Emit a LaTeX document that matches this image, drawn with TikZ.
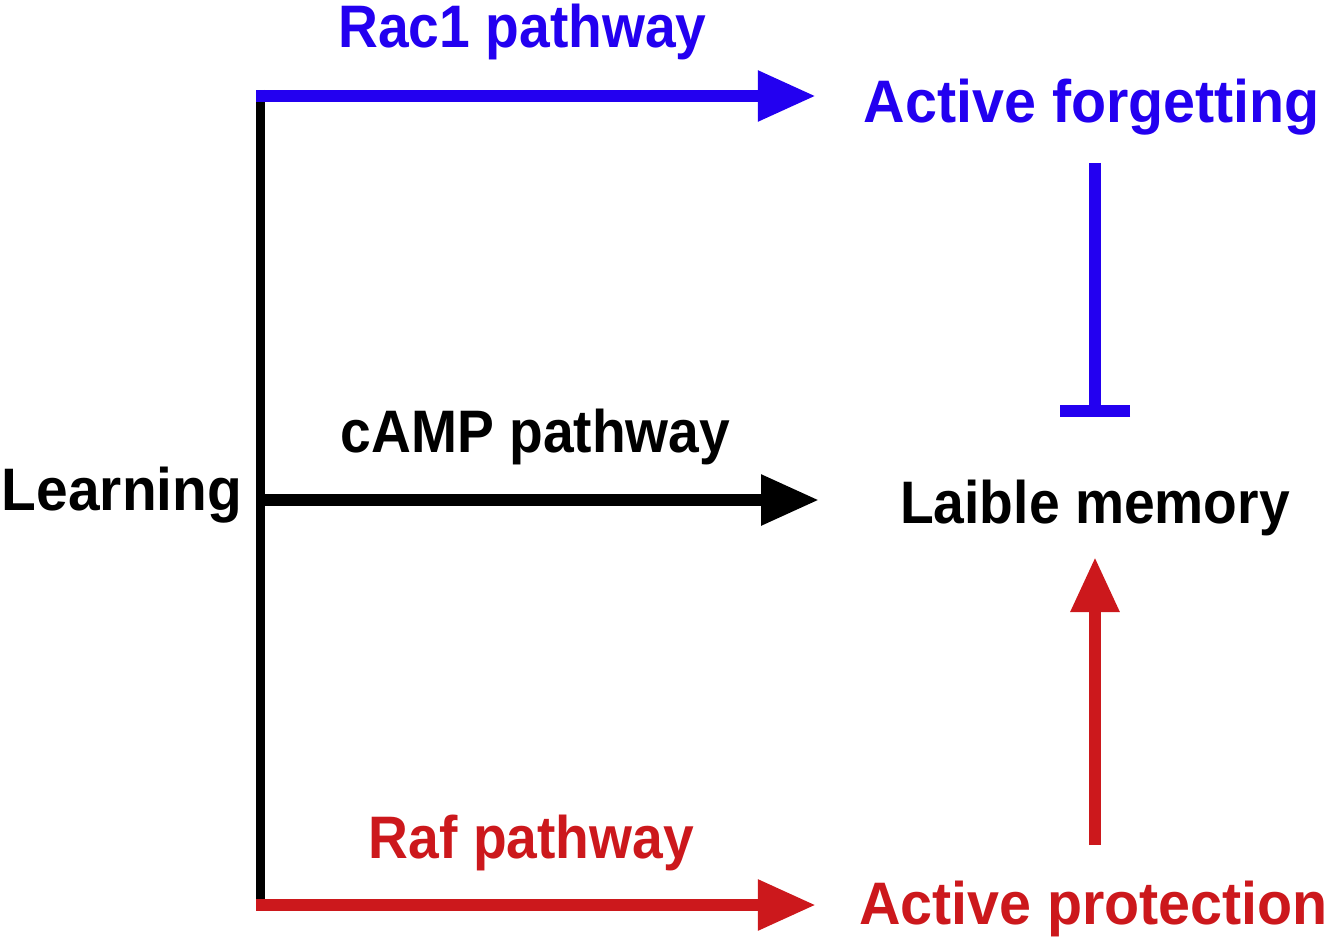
\documentclass[tikz,border=0pt]{standalone}
\usepackage{fontspec}
\usepackage{graphicx}
\setmainfont{Liberation Sans}[FakeStretch=0.92]
\usetikzlibrary{arrows.meta,calc}
\definecolor{cblue}{RGB}{35,0,240}
\definecolor{cred}{RGB}{204,24,28}
\newcommand{\wid}[1]{\scalebox{1.04}[1]{#1}}
\begin{document}
\begin{tikzpicture}[x=1pt,y=-1pt,
  lbl/.style={inner sep=0pt,anchor=base,font=\fontsize{60}{72}\selectfont\bfseries},
  conn/.style={line width=12pt},
  tipA/.style={-{Triangle[length=58pt,width=48pt]}},
  tipB/.style={-{Triangle[length=55pt,width=46pt]}}]
\useasboundingbox (0,0) rectangle (1328,939);
% text nodes
\node[lbl,text=cblue] (rac) at (522.5,48) {Rac1 pathway};
\node[lbl,text=cblue] (af) at (1092,123) {\wid{Active forgetting}};
\node[lbl] (camp) at (535.5,452) {cAMP pathway};
\node[lbl] (learn) at (122,510) {\scalebox{1.03}[1]{Learning}};
\node[lbl] (lm) at (1095,523) {Laible memory};
\node[lbl,text=cred] (raf) at (531.5,858) {Raf pathway};
\node[lbl,text=cred] (ap) at (1093.5,924) {\wid{Active protection}};
% trunk
\coordinate (ttop) at (260,90);
\coordinate (tbot) at (260,911);
\coordinate (b1) at (256,96);
\coordinate (b2) at (256,500);
\coordinate (b3) at (256,905);
\draw[line width=9pt] (ttop) -- (tbot);
% branches
\draw[conn,cblue,tipA,shorten >=48pt] (b1) -- (b1 -| af.west);
\draw[conn,black,tipA,shorten >=81pt] (b2) -- (b2 -| lm.west);
\draw[conn,cred,tipA,shorten >=43pt] (b3) -- (b3 -| ap.west);
% inhibition from active forgetting
\coordinate (fs) at ([yshift=-40pt]af.base);
\coordinate (fe) at ([yshift=106pt]lm.base);
\draw[conn,cblue,-{Bar[width=70pt]}] (fs -| lm.base) -- (fe -| lm.base);
% protection arrow
\coordinate (ps) at ([yshift=79pt]ap.base);
\coordinate (pe) at ([yshift=-34pt]lm.base);
\draw[conn,cred,tipB] (ps -| lm.base) -- (pe -| lm.base);
\end{tikzpicture}
\end{document}
